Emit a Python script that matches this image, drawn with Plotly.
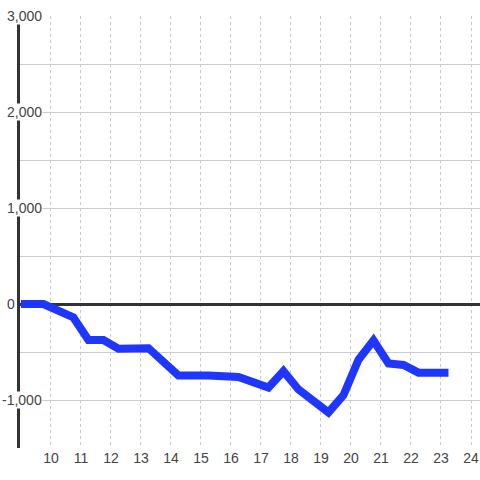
import plotly.graph_objects as go

hours = [9.0, 9.75, 10.75, 11.25, 11.75, 12.25, 13.25, 14.25, 15.25, 15.75, 16.25,
         17.25, 17.75, 18.25, 19.25, 19.75, 20.25, 20.75, 21.25, 21.75, 22.25, 23.25]
values = [0, 0, -140, -375, -375, -465, -460, -745, -745, -745, -760,
          -870, -700, -890, -1130, -950, -580, -380, -620, -635, -715, -715]

x_ticks = list(range(10, 25))
y_ticks = [3000, 2000, 1000, 0, -1000]
y_labels = ["3,000", "2,000", "1,000", "0", "-1,000"]

fig = go.Figure()
fig.add_trace(go.Scatter(x=hours, y=values, mode="lines",
                         line=dict(color="#1f36ff", width=8), hoverinfo="skip"))

annotations = []
for v, lab in zip(y_ticks, y_labels):
    if v == 0:
        annotations.append(dict(x=0, xref="paper", y=v, yref="y", text=lab, showarrow=False,
                                xanchor="right", xshift=-4, font=dict(size=14, color="#444"),
                                borderpad=0))
    else:
        annotations.append(dict(x=0, xref="paper", y=v, yref="y", text=lab, showarrow=False,
                                xanchor="right", xshift=23, font=dict(size=14, color="#444"),
                                bgcolor="white", borderpad=0))

fig.update_layout(
    width=480, height=480,
    margin=dict(l=20, r=0, t=16, b=32),
    paper_bgcolor="white", plot_bgcolor="white",
    showlegend=False,
    font=dict(family="Liberation Sans, Arial, sans-serif", size=14, color="#444"),
    annotations=annotations,
    xaxis=dict(range=[8.97, 24.3], tickmode="array", tickvals=x_ticks,
               showgrid=True, gridcolor="#c8c8c8", gridwidth=1, griddash="dot",
               zeroline=False, showline=False, ticks="",
               tickfont=dict(size=14, color="#444")),
    yaxis=dict(range=[-1500, 3000], tickmode="linear", tick0=0, dtick=500,
               showticklabels=False, showgrid=True, gridcolor="#cccccc", gridwidth=1,
               zeroline=True, zerolinecolor="#333333", zerolinewidth=3,
               showline=True, linecolor="#333333", linewidth=3, ticks=""),
)

fig.write_html("out.html", config={"displayModeBar": False},
               post_script="document.body.style.margin='0';document.body.style.overflow='hidden';")
